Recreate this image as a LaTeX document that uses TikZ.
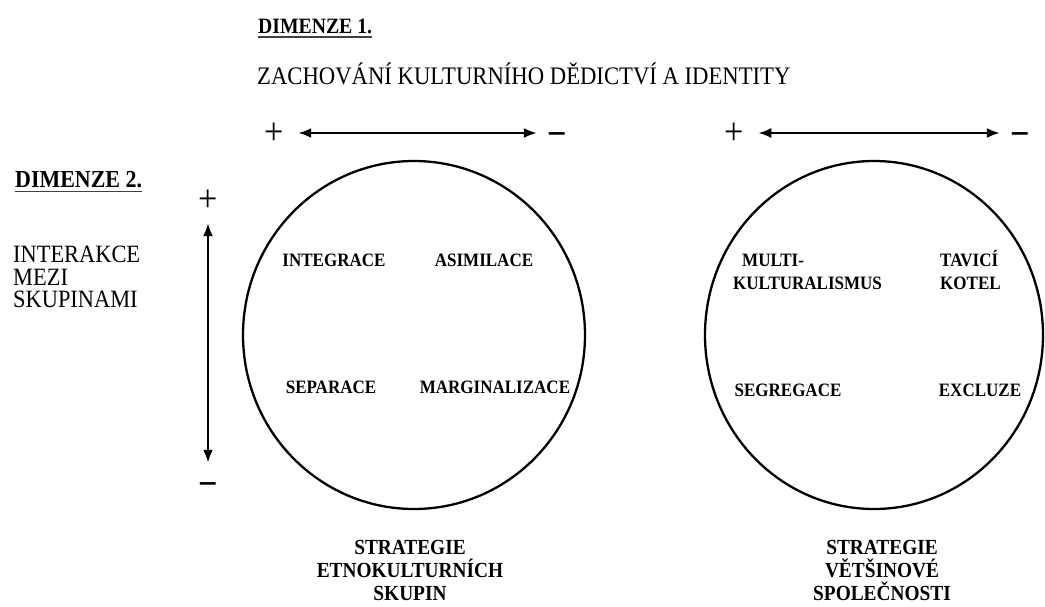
\documentclass[tikz,border=0pt]{standalone}
\usepackage{fontspec}
\setmainfont{Liberation Serif}[FakeStretch=0.9]
\usetikzlibrary{arrows.meta,shapes.geometric}
\begin{document}
\begin{tikzpicture}[x=1pt,y=-1pt,
  ring/.style={draw, ellipse, line width=2.3pt, inner sep=0pt},
  lbl/.style={font={\bfseries\fontsize{18.9}{23}\selectfont}, inner sep=0pt, anchor=base},
  mlbl/.style={font={\bfseries\fontsize{18.9}{23}\selectfont}, inner sep=0pt, align=left, anchor=south west},
  caption/.style={font={\bfseries\fontsize{21.5}{23}\selectfont}, inner sep=0pt, align=center, anchor=south},
  sign/.style={font={\fontsize{38}{38}\selectfont}, inner sep=0pt, text height=23.6pt, text depth=0pt},
  msign/.style={font={\bfseries\fontsize{38}{38}\selectfont}, inner sep=0pt, text height=26.6pt, text depth=0pt},
  axis/.style={line width=2.4pt, {Latex[length=13pt,width=10pt]}-{Latex[length=13pt,width=10pt]}},
  uline/.style={line width=1.6pt, draw=black!75}
]
\useasboundingbox (0,0) rectangle (1045,606);

% headings
\node[font={\bfseries\fontsize{21.9}{25}\selectfont}, inner sep=0pt, anchor=base west] (d1) at (258,33) {DIMENZE 1.};
\draw[uline] ([yshift=-4pt]d1.base west) -- ([yshift=-4pt]d1.base east);
\node[font={\fontsize{25.2}{28}\selectfont}, inner sep=0pt, anchor=base west] (zach) at (257,84) {ZACHOVÁNÍ KULTURNÍHO DĚDICTVÍ A IDENTITY};

\node[font={\bfseries\fontsize{24.4}{28}\selectfont}, inner sep=0pt, anchor=base west] (d2) at (15,187) {DIMENZE 2.};
\draw[uline] ([yshift=-4.5pt]d2.base west) -- ([yshift=-4.5pt]d2.base east);
\node[font={\fontsize{24.9}{22.5}\selectfont}, inner sep=0pt, align=left, anchor=south west] (inter) at (13,308) {INTERAKCE\\MEZI\\SKUPINAMI};

% horizontal axes
\node[sign] (p1) at (274,133) {+};
\node[msign] (m1) at (557,133) {−};
\draw[axis, shorten <=14.4pt, shorten >=10.2pt] (p1) -- (m1);
\node[sign] (p2) at (734,133) {+};
\node[msign] (m2) at (1020,133) {−};
\draw[axis, shorten <=14.4pt, shorten >=10.2pt] (p2) -- (m2);

% vertical axis
\node[sign] (vp) at (208,200) {+};
\node[msign] (vm) at (208,483) {−};
\draw[axis, shorten <=11.2pt, shorten >=6.7pt] (vp) -- (vm);

% circles
\node[ring, minimum width=342pt, minimum height=348pt] (c1) at (414,335) {};
\node[ring, minimum width=338pt, minimum height=348pt] (c2) at (874,335) {};

% labels in circle 1
\node[lbl] (integ) at (334,266.5) {INTEGRACE};
\node[lbl] (asim) at (484,266.5) {ASIMILACE};
\node[lbl] (sep) at (331,393.5) {SEPARACE};
\node[lbl] (marg) at (495,393.5) {MARGINALIZACE};

% labels in circle 2
\node[mlbl] (multi) at (733,289.5) {\hspace*{9pt}MULTI-\\KULTURALISMUS};
\node[mlbl] (tav) at (940,289.5) {TAVICÍ\\KOTEL};
\node[lbl] (segr) at (788,396.5) {SEGREGACE};
\node[lbl] (excl) at (980,396.5) {EXCLUZE};

% captions
\node[caption] (cap1) at (410,601) {STRATEGIE\\ETNOKULTURNÍCH\\SKUPIN};
\node[caption] (cap2) at (882,601) {STRATEGIE\\VĚTŠINOVÉ\\SPOLEČNOSTI};
\end{tikzpicture}
\end{document}
